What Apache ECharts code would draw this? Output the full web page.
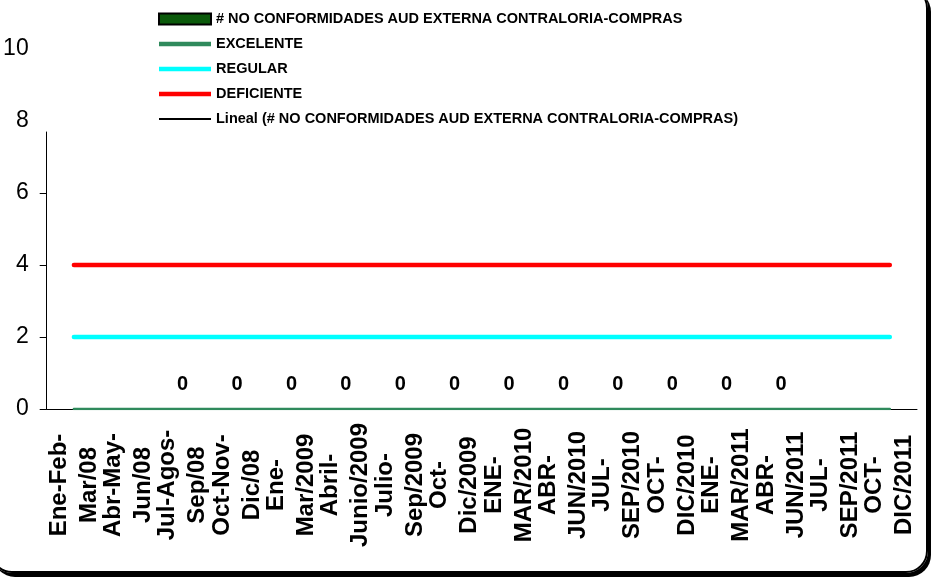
<!DOCTYPE html>
<html>
<head>
<meta charset="utf-8">
<script src="https://cdn.jsdelivr.net/npm/echarts@6/dist/echarts.min.js"></script>
<style>
  html, body { margin: 0; padding: 0; background: #fff; overflow: hidden; }
  .box { position: relative; width: 931px; height: 581px; overflow: hidden; }
  .chart { position: absolute; left: 0; top: 0; width: 931px; height: 581px; }
  .frame {
    position: absolute; left: -10px; top: -14px; width: 938px; height: 587px;
    box-sizing: border-box; border: 2px solid #000; border-radius: 22px;
    box-shadow: 3px 4px 0 #000; pointer-events: none;
  }
</style>
</head>
<body>
<div class="box">
  <div id="mainChart" class="chart"></div>
  <div class="frame"></div>
</div>
<script>
// periods (line break where the original label wraps)
const periods = [
  'Ene-Feb-\nMar/08', 'Abr-May-\nJun/08', 'Jul-Agos-\nSep/08', 'Oct-Nov-\nDic/08',
  'Ene-\nMar/2009', 'Abril-\nJunio/2009', 'Julio-\nSep/2009', 'Oct-\nDic/2009',
  'ENE-\nMAR/2010', 'ABR-\nJUN/2010', 'JUL-\nSEP/2010', 'OCT-\nDIC/2010',
  'ENE-\nMAR/2011', 'ABR-\nJUN/2011', 'JUL-\nSEP/2011', 'OCT-\nDIC/2011'
]
const noConformidades = ['-', '-', 0, 0, 0, 0, 0, 0, 0, 0, 0, 0, 0, 0, '-', '-']
const excelente = [0, 0, 0, 0, 0, 0, 0, 0, 0, 0, 0, 0, 0, 0, 0, 0]
const regular = [2, 2, 2, 2, 2, 2, 2, 2, 2, 2, 2, 2, 2, 2, 2, 2]
const deficiente = [4, 4, 4, 4, 4, 4, 4, 4, 4, 4, 4, 4, 4, 4, 4, 4]
const lineal = ['-', '-', 0, 0, 0, 0, 0, 0, 0, 0, 0, 0, 0, 0, '-', '-']
const yTicks = [0, 2, 4, 6]

const FONT = '"Liberation Sans", Arial, sans-serif'
const barName = '# NO CONFORMIDADES AUD EXTERNA CONTRALORIA-COMPRAS'
const linealName = 'Lineal (# NO CONFORMIDADES AUD EXTERNA CONTRALORIA-COMPRAS)'

// legend icons drawn as flat bars so no symbol dot appears
const thickIcon = 'path://M0,0 L52,0 L52,4.5 L0,4.5 Z'
const thinIcon = 'path://M0,0 L52,0 L52,2 L0,2 Z'

function flatLine (name, data, color, width, z) {
  return {
    name: name,
    type: 'line',
    data: data,
    symbol: 'none',
    z: z,
    lineStyle: { color: color, width: width, cap: 'round' },
    itemStyle: { color: color }
  }
}

const option = {
  animation: false,
  backgroundColor: 'transparent',
  textStyle: { fontFamily: FONT },
  legend: {
    orient: 'vertical',
    left: 158,
    top: 11,
    padding: 0,
    itemWidth: 52,
    itemHeight: 11,
    itemGap: 9,
    symbolKeepAspect: true,
    textStyle: { fontSize: 14.5, fontWeight: 'bold', color: '#000', fontFamily: FONT, lineHeight: 16 },
    data: [
      { name: barName, icon: 'rect' },
      { name: 'EXCELENTE', icon: thickIcon },
      { name: 'REGULAR', icon: thickIcon },
      { name: 'DEFICIENTE', icon: thickIcon },
      { name: linealName, icon: thinIcon }
    ]
  },
  grid: [
    { left: 46.7, right: 14, top: 49, bottom: 172 },
    { left: 46.7, right: 14, top: 132, bottom: 172 }
  ],
  xAxis: [
    {
      type: 'category',
      gridIndex: 0,
      data: periods,
      axisLine: { lineStyle: { color: '#000', width: 1 } },
      axisTick: { length: 7, lineStyle: { color: '#000' } },
      axisLabel: {
        interval: 0,
        rotate: 90,
        align: 'center',
        verticalAlign: 'middle',
        margin: 76,
        fontSize: 24,
        lineHeight: 30,
        fontWeight: 'bold',
        color: '#000',
        fontFamily: FONT
      }
    },
    { type: 'category', gridIndex: 1, data: periods, show: false }
  ],
  yAxis: [
    {
      type: 'value',
      gridIndex: 0,
      min: 0,
      max: 10,
      interval: 2,
      axisLine: { show: false },
      axisTick: { show: false },
      splitLine: { show: false },
      axisLabel: { margin: 18, fontSize: 23, color: '#000', fontFamily: FONT }
    },
    {
      type: 'value',
      gridIndex: 1,
      min: 0,
      max: 277 / 36,
      axisLine: { show: true, lineStyle: { color: '#000', width: 1 } },
      axisTick: { show: true, length: 7, customValues: yTicks, lineStyle: { color: '#000' } },
      axisLabel: { show: false },
      splitLine: { show: false }
    }
  ],
  series: [
    {
      name: barName,
      type: 'bar',
      data: noConformidades,
      barWidth: '45%',
      z: 2,
      itemStyle: { color: '#0b5a0b', borderColor: '#000', borderWidth: 2 },
      label: {
        show: true,
        position: 'top',
        distance: 14,
        fontSize: 20,
        fontWeight: 'bold',
        color: '#000',
        fontFamily: FONT
      }
    },
    // the zero line is half hidden by the plot edge in the original, so it is drawn thinner
    flatLine('EXCELENTE', excelente, '#2f8a5c', 2.5, 4),
    flatLine('REGULAR', regular, '#00ffff', 4.5, 4),
    flatLine('DEFICIENTE', deficiente, '#ff0000', 4.5, 4),
    flatLine(linealName, lineal, '#000000', 2, 3)
  ]
}

const myChart = echarts.init(document.getElementById('mainChart'), null, { renderer: 'canvas' })
myChart.setOption(option, true)
</script>
</body>
</html>
